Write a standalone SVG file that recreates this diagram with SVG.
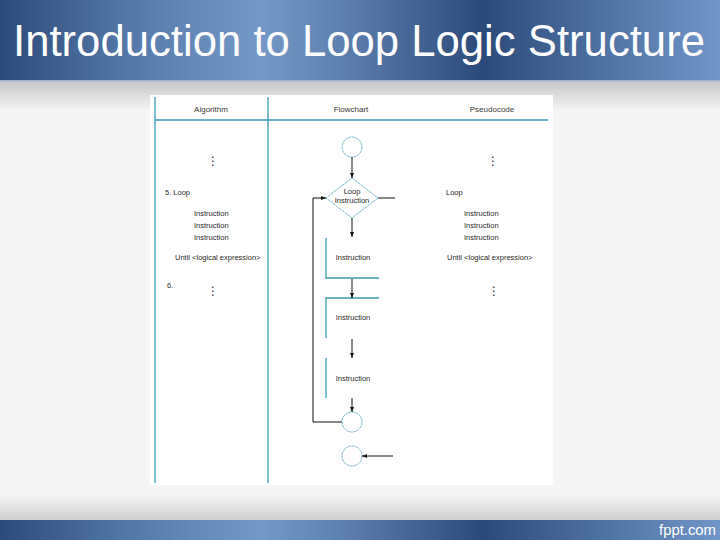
<svg xmlns="http://www.w3.org/2000/svg" width="720" height="540" viewBox="0 0 720 540">
<defs>
<linearGradient id="band" x1="0" y1="0" x2="1" y2="0">
<stop offset="0" stop-color="#2d4b7a"/>
<stop offset="0.18" stop-color="#5478a8"/>
<stop offset="0.36" stop-color="#7599c7"/>
<stop offset="0.48" stop-color="#5d7fae"/>
<stop offset="0.67" stop-color="#2b4a79"/>
<stop offset="0.85" stop-color="#5275a6"/>
<stop offset="1" stop-color="#7095c6"/>
</linearGradient>
<linearGradient id="topshade" x1="0" y1="0" x2="0" y2="1">
<stop offset="0" stop-color="#c6c6c6"/>
<stop offset="1" stop-color="#f5f5f5"/>
</linearGradient>
<linearGradient id="botshade" x1="0" y1="0" x2="0" y2="1">
<stop offset="0" stop-color="#f4f4f4"/>
<stop offset="1" stop-color="#cfcfcf"/>
</linearGradient>
<marker id="ah" viewBox="0 0 10 10" refX="10" refY="5" markerWidth="5" markerHeight="5" orient="auto" markerUnits="userSpaceOnUse">
<path d="M0,1 L10,5 L0,9 z" fill="#111"/>
</marker>
<style>
.t{font-family:"Liberation Sans",Arial,sans-serif;font-size:7.5px;fill:#2a2a2a}
.h{font-family:"Liberation Sans",Arial,sans-serif;font-size:8px;fill:#3a3a3a;text-anchor:middle}
.c{text-anchor:middle}
.d{font-family:"DejaVu Sans",sans-serif;font-size:12px;fill:#2a2a2a;text-anchor:middle}
.teal{stroke:#3a9ab5;stroke-width:1.3;fill:none}
.blk{stroke:#111;stroke-width:1;fill:none}
.shape{stroke:#5aa6bd;stroke-width:0.8;fill:#fff;stroke-dasharray:3 0.6}
</style>
</defs>
<rect width="720" height="540" fill="#f5f5f5"/>
<rect x="0" y="81" width="720" height="30" fill="url(#topshade)"/>
<rect x="0" y="495" width="720" height="25" fill="url(#botshade)"/>
<rect x="0" y="0" width="720" height="81" fill="url(#band)"/>
<rect x="0" y="80" width="720" height="1.5" fill="#9fb3cf"/>
<rect x="0" y="520" width="720" height="20" fill="url(#band)"/>
<text x="359" y="56" font-family="Liberation Sans,Arial,sans-serif" font-size="44" fill="#fff" text-anchor="middle" textLength="692" lengthAdjust="spacingAndGlyphs">Introduction to Loop Logic Structure</text>
<text x="716" y="535" font-family="Liberation Sans,Arial,sans-serif" font-size="15" fill="#fff" text-anchor="end" textLength="57" lengthAdjust="spacingAndGlyphs">fppt.com</text>

<g id="figure">
<rect x="150" y="95" width="403" height="390" fill="#fff"/>
<line class="teal" x1="155" y1="97" x2="155" y2="483"/>
<line class="teal" x1="268" y1="97" x2="268" y2="483"/>
<line class="teal" x1="155" y1="120" x2="548" y2="120"/>
<text class="h" x="211" y="112">Algorithm</text>
<text class="h" x="351" y="112">Flowchart</text>
<text class="h" x="492" y="112">Pseudocode</text>
</g>

<g id="algorithm">
<text class="d" x="213" y="165">⋮</text>
<text class="t" x="165" y="195">5. Loop</text>
<text class="t" x="194" y="216">Instruction</text>
<text class="t" x="194" y="228">Instruction</text>
<text class="t" x="194" y="240">Instruction</text>
<text class="t" x="175" y="260">Until &lt;logical expression&gt;</text>
<text class="t" x="167" y="288">6.</text>
<text class="d" x="213" y="295">⋮</text>
</g>

<g id="pseudocode">
<text class="d" x="493" y="165">⋮</text>
<text class="t" x="446" y="195">Loop</text>
<text class="t" x="464" y="216">Instruction</text>
<text class="t" x="464" y="228">Instruction</text>
<text class="t" x="464" y="240">Instruction</text>
<text class="t" x="447" y="260">Until &lt;logical expression&gt;</text>
<text class="d" x="494" y="295">⋮</text>
</g>

<g id="start"><circle class="shape" cx="352" cy="147" r="10"/></g>
<g id="loop">
<polygon class="shape" points="352,178 378,198 352,218 326,198"/>
<text class="t c" x="352" y="194">Loop</text>
<text class="t c" x="352" y="203">Instruction</text>
</g>
<g id="instr1">
<path class="teal" d="M326,238 V278 H379"/>
<text class="t c" x="353" y="260">Instruction</text>
</g>
<g id="instr2">
<path class="teal" d="M379,298 H326 V338"/>
<text class="t c" x="353" y="320">Instruction</text>
</g>
<g id="instr3">
<path class="teal" d="M326,358 V398"/>
<text class="t c" x="353" y="381">Instruction</text>
</g>
<g id="loopend"><circle class="shape" cx="352" cy="422" r="10"/></g>
<g id="end"><circle class="shape" cx="352" cy="456" r="10"/></g>

<g id="connectors">
<line class="blk" x1="352" y1="157" x2="352" y2="178" marker-end="url(#ah)"/>
<line class="blk" x1="378" y1="198" x2="395" y2="198"/>
<line class="blk" x1="352" y1="218" x2="352" y2="237" marker-end="url(#ah)"/>
<line class="blk" x1="352" y1="279" x2="352" y2="298" marker-end="url(#ah)"/>
<line class="blk" x1="352" y1="339" x2="352" y2="358" marker-end="url(#ah)"/>
<line class="blk" x1="352" y1="398" x2="352" y2="412" marker-end="url(#ah)"/>
<path class="blk" d="M342,422 H313 V198 H326" marker-end="url(#ah)"/>
<line class="blk" x1="393" y1="456" x2="362" y2="456" marker-end="url(#ah)"/>
</g>
</svg>
